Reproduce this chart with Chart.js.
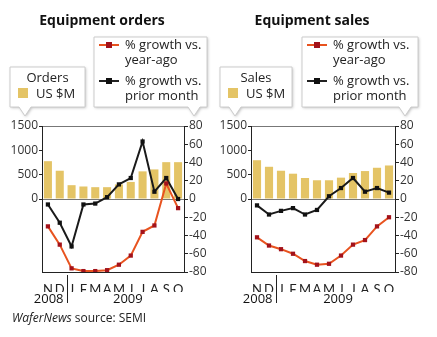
<!DOCTYPE html>
<html>
<head>
<meta charset="utf-8">
<script src="https://cdn.jsdelivr.net/npm/chart.js@4"></script>
<style>
  body { margin: 0; background: #fff; }
  #wrap { position: relative; width: 437px; height: 337px; }
  .panel { position: absolute; top: 0; height: 337px; }
</style>
</head>
<body>
<div id="wrap">
  <div class="panel" style="left:0;width:218px"><canvas id="orders"></canvas></div>
  <div class="panel" style="left:218px;width:219px"><canvas id="sales"></canvas></div>
</div>
<script>
// months Nov 2008 - Oct 2009
const months = ['N', 'D', 'J', 'F', 'M', 'A', 'M', 'J', 'J', 'A', 'S', 'O']
const years = ['2008', '2009']

// equipment orders
const ordersUSD = [777, 581, 284, 257, 243, 243, 300, 351, 568, 608, 757, 757]
const ordersYearAgo = [-30, -50, -76, -79, -79, -78, -72, -62, -36, -29, 17, -10]
const ordersPriorMonth = [-6, -26, -52, -6, -5, 2, 16, 23, 63, 8, 23, 0]

// equipment sales
const salesUSD = [797, 662, 581, 520, 432, 385, 385, 439, 534, 574, 642, 689]
const salesYearAgo = [-42, -51, -55, -60, -68, -72, -71, -62, -50, -45, -30, -20]
const salesPriorMonth = [-7, -17, -13, -10, -17, -12, 3, 12, 23, 8, 12, 7]

const FONT = 'Open Sans'
const GOLD = '#e4c466'
const RED_LINE = '#e8531f'
const RED_DOT = '#a3121a'

// callout box with a little pointer at the bottom
function callout(ctx, x1, y1, x2, y2, px) {
  ctx.save()
  ctx.shadowColor = 'rgba(0,0,0,0.25)'
  ctx.shadowBlur = 3
  ctx.shadowOffsetX = 1
  ctx.shadowOffsetY = 1
  ctx.fillStyle = '#fff'
  ctx.beginPath()
  ctx.moveTo(x1, y1)
  ctx.lineTo(x2, y1)
  ctx.lineTo(x2, y2)
  ctx.lineTo(px + 6, y2)
  ctx.lineTo(px, y2 + 9)
  ctx.lineTo(px - 6, y2)
  ctx.lineTo(x1, y2)
  ctx.closePath()
  ctx.fill()
  ctx.restore()
  ctx.save()
  ctx.strokeStyle = '#ccc'
  ctx.lineWidth = 1
  ctx.stroke()
  ctx.restore()
}

function legendLine(ctx, x, y, line, dot) {
  ctx.strokeStyle = line
  ctx.lineWidth = 2
  ctx.beginPath()
  ctx.moveTo(x, y)
  ctx.lineTo(x + 20, y)
  ctx.stroke()
  ctx.fillStyle = dot
  ctx.fillRect(x + 7, y - 3, 6, 6)
}

const decor = {
  id: 'decor',
  afterDraw(chart, args, o) {
    const ctx = chart.ctx
    const x = chart.scales.x
    const area = chart.chartArea
    ctx.save()
    // title
    ctx.fillStyle = '#111'
    ctx.font = 'bold 14px "' + FONT + '"'
    ctx.textAlign = 'center'
    ctx.textBaseline = 'middle'
    ctx.fillText(o.title, o.titleX, 21)

    // bars callout
    callout(ctx, o.b1[0], 67, o.b1[1], 107, o.b1[0] + 15)
    ctx.fillStyle = '#222'
    ctx.font = '13px "' + FONT + '"'
    ctx.textAlign = 'center'
    ctx.fillText(o.name, (o.b1[0] + o.b1[1]) / 2, 78)
    ctx.fillStyle = GOLD
    ctx.fillRect(o.b1[0] + 8, 88, 10, 10)
    ctx.fillStyle = '#222'
    ctx.textAlign = 'left'
    ctx.fillText('US $M', o.b1[0] + 26, 94)

    // lines callout
    callout(ctx, o.b2[0], 37, o.b2[1], 107, o.b2[1] - 13)
    legendLine(ctx, o.b2[0] + 5, 45, RED_LINE, RED_DOT)
    legendLine(ctx, o.b2[0] + 5, 81, '#222', '#111')
    ctx.fillStyle = '#222'
    ctx.textAlign = 'left'
    const tx = o.b2[0] + 31
    ctx.fillText('% growth vs.', tx, 45)
    ctx.fillText('year-ago', tx, 60)
    ctx.fillText('% growth vs.', tx, 81)
    ctx.fillText('prior month', tx, 96)

    // years under the month axis
    const sep = Math.round((x.getPixelForValue(1) + x.getPixelForValue(2)) / 2) + 1.5
    ctx.strokeStyle = '#222'
    ctx.lineWidth = 1
    ctx.beginPath()
    ctx.moveTo(sep, area.bottom + 3)
    ctx.lineTo(sep, area.bottom + 31)
    ctx.stroke()
    ctx.font = '13px "' + FONT + '"'
    ctx.fillStyle = '#111'
    ctx.textAlign = 'right'
    ctx.fillText(years[0], sep - 4, 299)
    ctx.textAlign = 'center'
    ctx.fillText(years[1], (x.getPixelForValue(2) + x.getPixelForValue(11)) / 2 + 3, 299)

    if (o.footer) {
      ctx.textAlign = 'left'
      ctx.font = 'italic 12px "' + FONT + '"'
      ctx.fillStyle = '#222'
      ctx.fillText('WaferNews', 12, 319)
      const w = ctx.measureText('WaferNews ').width
      ctx.font = '12px "' + FONT + '"'
      ctx.fillText('source: SEMI', 12 + w, 319)
    }
    ctx.restore()
  }
}

function makeChart(id, bars, yearAgo, priorMonth, opts) {
  const ctx = document.getElementById(id).getContext('2d')
  return new Chart(ctx, {
    type: 'bar',
    data: {
      labels: months,
      datasets: [
        { type: 'line', data: yearAgo, yAxisID: 'y2', borderColor: RED_LINE, borderWidth: 2,
          pointStyle: 'rect', pointRadius: 3, pointBackgroundColor: RED_DOT, pointBorderColor: RED_DOT,
          pointBorderWidth: 0, tension: 0 },
        { type: 'line', data: priorMonth, yAxisID: 'y2', borderColor: '#1a1a1a', borderWidth: 2,
          pointStyle: 'rect', pointRadius: 3, pointBackgroundColor: '#111', pointBorderColor: '#111',
          pointBorderWidth: 0, tension: 0 },
        { data: bars, yAxisID: 'y', backgroundColor: GOLD, barPercentage: 0.68, categoryPercentage: 1 }
      ]
    },
    options: {
      responsive: true,
      maintainAspectRatio: false,
      animation: false,
      layout: { padding: { top: 126, bottom: 45, left: opts.padL, right: opts.padR } },
      plugins: { legend: { display: false }, tooltip: { enabled: false }, decor: opts },
      scales: {
        x: {
          grid: { display: false },
          border: { display: true, color: '#222', width: 1 },
          ticks: { color: '#222', padding: 2, maxRotation: 0, autoSkip: false, font: { family: 'Lato', size: 13 } },
          afterFit(s) { s.height = 20 }
        },
        y: {
          position: 'left',
          min: -1500, max: 1500,
          grid: {
            drawOnChartArea: false, tickLength: 3,
            tickColor: c => c.tick && c.tick.value >= 0 ? '#222' : 'rgba(0,0,0,0)'
          },
          border: { display: true, color: '#222', width: 1 },
          ticks: {
            stepSize: 500, padding: 1, color: '#333', font: { family: FONT, size: 12 },
            callback: v => v >= 0 ? v : ''
          },
          afterFit(s) { s.width = opts.leftW }
        },
        y2: {
          position: 'right',
          min: -80, max: 80,
          grid: {
            drawOnChartArea: true, tickLength: 4, tickColor: '#222',
            color: c => c.tick && (c.tick.value === 0 || c.tick.value === 80) ? '#777' : 'rgba(0,0,0,0)'
          },
          border: { display: true, color: '#222', width: 1 },
          ticks: {
            stepSize: 10, padding: 1, color: '#333', font: { family: FONT, size: 12 },
            callback: v => v % 20 === 0 ? v : ''
          },
          afterFit(s) { s.width = 34 }
        }
      }
    },
    plugins: [decor]
  })
}

makeChart('orders', ordersUSD, ordersYearAgo, ordersPriorMonth, {
  title: 'Equipment orders', titleX: 102, name: 'Orders',
  b1: [10, 85], b2: [94, 207], padL: 0, padR: 0, leftW: 42, footer: true
})
makeChart('sales', salesUSD, salesYearAgo, salesPriorMonth, {
  title: 'Equipment sales', titleX: 94, name: 'Sales',
  b1: [2, 74], b2: [84, 200], padL: 0, padR: 8, leftW: 33, footer: false
})
</script>
</body>
</html>
